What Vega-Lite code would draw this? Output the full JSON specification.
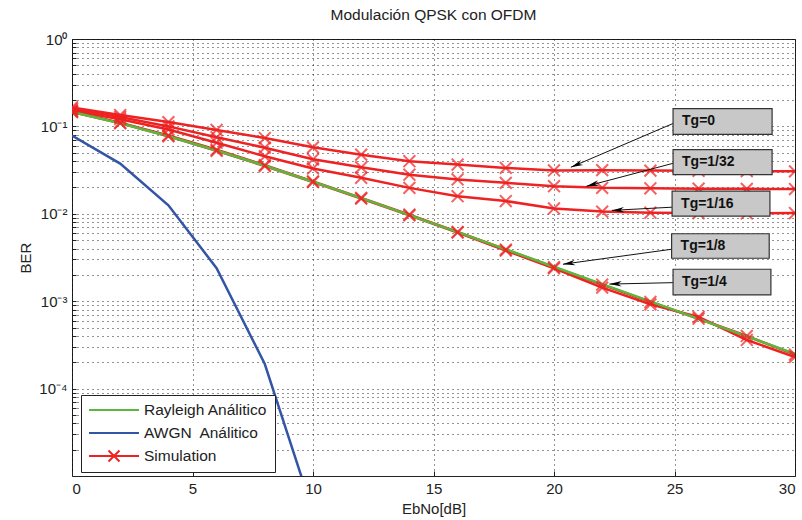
{
  "$schema": "https://vega.github.io/schema/vega-lite/v6.json",
  "width": 723,
  "height": 437,
  "autosize": {"type": "none"},
  "padding": {"left": 72, "top": 39, "right": 7, "bottom": 44},
  "background": "white",
  "title": {"text": "Modulación QPSK con OFDM", "fontSize": 15.5, "fontWeight": "normal", "font": "Liberation Sans", "color": "#222", "offset": 9},
  "config": {"view": {"stroke": "#222", "strokeWidth": 1}, "font": "Liberation Sans"},
  "datasets": {
    "curves": [
      {"s": "Simulation", "g": "Tg=0", "x": 0, "ber": 0.165}, {"s": "Simulation", "g": "Tg=0", "x": 2, "ber": 0.135}, {"s": "Simulation", "g": "Tg=0", "x": 4, "ber": 0.112}, {"s": "Simulation", "g": "Tg=0", "x": 6, "ber": 0.091}, {"s": "Simulation", "g": "Tg=0", "x": 8, "ber": 0.0736}, {"s": "Simulation", "g": "Tg=0", "x": 10, "ber": 0.0576}, {"s": "Simulation", "g": "Tg=0", "x": 12, "ber": 0.0475}, {"s": "Simulation", "g": "Tg=0", "x": 14, "ber": 0.040}, {"s": "Simulation", "g": "Tg=0", "x": 16, "ber": 0.0366}, {"s": "Simulation", "g": "Tg=0", "x": 18, "ber": 0.0335}, {"s": "Simulation", "g": "Tg=0", "x": 20, "ber": 0.0313}, {"s": "Simulation", "g": "Tg=0", "x": 22, "ber": 0.0316}, {"s": "Simulation", "g": "Tg=0", "x": 24, "ber": 0.0312}, {"s": "Simulation", "g": "Tg=0", "x": 26, "ber": 0.031}, {"s": "Simulation", "g": "Tg=0", "x": 28, "ber": 0.0308}, {"s": "Simulation", "g": "Tg=0", "x": 30, "ber": 0.0306},
      {"s": "Simulation", "g": "Tg=1/32", "x": 0, "ber": 0.158}, {"s": "Simulation", "g": "Tg=1/32", "x": 2, "ber": 0.128}, {"s": "Simulation", "g": "Tg=1/32", "x": 4, "ber": 0.100}, {"s": "Simulation", "g": "Tg=1/32", "x": 6, "ber": 0.075}, {"s": "Simulation", "g": "Tg=1/32", "x": 8, "ber": 0.057}, {"s": "Simulation", "g": "Tg=1/32", "x": 10, "ber": 0.042}, {"s": "Simulation", "g": "Tg=1/32", "x": 12, "ber": 0.034}, {"s": "Simulation", "g": "Tg=1/32", "x": 14, "ber": 0.028}, {"s": "Simulation", "g": "Tg=1/32", "x": 16, "ber": 0.0247}, {"s": "Simulation", "g": "Tg=1/32", "x": 18, "ber": 0.0226}, {"s": "Simulation", "g": "Tg=1/32", "x": 20, "ber": 0.0207}, {"s": "Simulation", "g": "Tg=1/32", "x": 22, "ber": 0.0198}, {"s": "Simulation", "g": "Tg=1/32", "x": 24, "ber": 0.0196}, {"s": "Simulation", "g": "Tg=1/32", "x": 26, "ber": 0.0194}, {"s": "Simulation", "g": "Tg=1/32", "x": 28, "ber": 0.0193}, {"s": "Simulation", "g": "Tg=1/32", "x": 30, "ber": 0.0192},
      {"s": "Simulation", "g": "Tg=1/16", "x": 0, "ber": 0.152}, {"s": "Simulation", "g": "Tg=1/16", "x": 2, "ber": 0.121}, {"s": "Simulation", "g": "Tg=1/16", "x": 4, "ber": 0.092}, {"s": "Simulation", "g": "Tg=1/16", "x": 6, "ber": 0.065}, {"s": "Simulation", "g": "Tg=1/16", "x": 8, "ber": 0.0455}, {"s": "Simulation", "g": "Tg=1/16", "x": 10, "ber": 0.033}, {"s": "Simulation", "g": "Tg=1/16", "x": 12, "ber": 0.0258}, {"s": "Simulation", "g": "Tg=1/16", "x": 14, "ber": 0.0198}, {"s": "Simulation", "g": "Tg=1/16", "x": 16, "ber": 0.0159}, {"s": "Simulation", "g": "Tg=1/16", "x": 18, "ber": 0.014}, {"s": "Simulation", "g": "Tg=1/16", "x": 20, "ber": 0.0115}, {"s": "Simulation", "g": "Tg=1/16", "x": 22, "ber": 0.0106}, {"s": "Simulation", "g": "Tg=1/16", "x": 24, "ber": 0.0103}, {"s": "Simulation", "g": "Tg=1/16", "x": 26, "ber": 0.0102}, {"s": "Simulation", "g": "Tg=1/16", "x": 28, "ber": 0.0101}, {"s": "Simulation", "g": "Tg=1/16", "x": 30, "ber": 0.0102},
      {"s": "Simulation", "g": "Tg=1/8", "x": 0, "ber": 0.148}, {"s": "Simulation", "g": "Tg=1/8", "x": 2, "ber": 0.11}, {"s": "Simulation", "g": "Tg=1/8", "x": 4, "ber": 0.079}, {"s": "Simulation", "g": "Tg=1/8", "x": 6, "ber": 0.054}, {"s": "Simulation", "g": "Tg=1/8", "x": 8, "ber": 0.036}, {"s": "Simulation", "g": "Tg=1/8", "x": 10, "ber": 0.0235}, {"s": "Simulation", "g": "Tg=1/8", "x": 12, "ber": 0.0152}, {"s": "Simulation", "g": "Tg=1/8", "x": 14, "ber": 0.0098}, {"s": "Simulation", "g": "Tg=1/8", "x": 16, "ber": 0.0062}, {"s": "Simulation", "g": "Tg=1/8", "x": 18, "ber": 0.0039}, {"s": "Simulation", "g": "Tg=1/8", "x": 20, "ber": 0.00245}, {"s": "Simulation", "g": "Tg=1/8", "x": 22, "ber": 0.00155}, {"s": "Simulation", "g": "Tg=1/8", "x": 24, "ber": 0.00098}, {"s": "Simulation", "g": "Tg=1/8", "x": 26, "ber": 0.00063}, {"s": "Simulation", "g": "Tg=1/8", "x": 28, "ber": 0.0004}, {"s": "Simulation", "g": "Tg=1/8", "x": 30, "ber": 0.000245},
      {"s": "Simulation", "g": "Tg=1/4", "x": 0, "ber": 0.146}, {"s": "Simulation", "g": "Tg=1/4", "x": 2, "ber": 0.109}, {"s": "Simulation", "g": "Tg=1/4", "x": 4, "ber": 0.077}, {"s": "Simulation", "g": "Tg=1/4", "x": 6, "ber": 0.0525}, {"s": "Simulation", "g": "Tg=1/4", "x": 8, "ber": 0.0352}, {"s": "Simulation", "g": "Tg=1/4", "x": 10, "ber": 0.0231}, {"s": "Simulation", "g": "Tg=1/4", "x": 12, "ber": 0.0149}, {"s": "Simulation", "g": "Tg=1/4", "x": 14, "ber": 0.0096}, {"s": "Simulation", "g": "Tg=1/4", "x": 16, "ber": 0.0061}, {"s": "Simulation", "g": "Tg=1/4", "x": 18, "ber": 0.0038}, {"s": "Simulation", "g": "Tg=1/4", "x": 20, "ber": 0.00238}, {"s": "Simulation", "g": "Tg=1/4", "x": 22, "ber": 0.00143}, {"s": "Simulation", "g": "Tg=1/4", "x": 24, "ber": 0.00092}, {"s": "Simulation", "g": "Tg=1/4", "x": 26, "ber": 0.00066}, {"s": "Simulation", "g": "Tg=1/4", "x": 28, "ber": 0.00036}, {"s": "Simulation", "g": "Tg=1/4", "x": 30, "ber": 0.00023},
      {"s": "Rayleigh Análitico", "g": "R", "x": 0, "ber": 0.1464}, {"s": "Rayleigh Análitico", "g": "R", "x": 2, "ber": 0.1085}, {"s": "Rayleigh Análitico", "g": "R", "x": 4, "ber": 0.0771}, {"s": "Rayleigh Análitico", "g": "R", "x": 6, "ber": 0.053}, {"s": "Rayleigh Análitico", "g": "R", "x": 8, "ber": 0.0355}, {"s": "Rayleigh Análitico", "g": "R", "x": 10, "ber": 0.0233}, {"s": "Rayleigh Análitico", "g": "R", "x": 12, "ber": 0.0151}, {"s": "Rayleigh Análitico", "g": "R", "x": 14, "ber": 0.00967}, {"s": "Rayleigh Análitico", "g": "R", "x": 16, "ber": 0.00617}, {"s": "Rayleigh Análitico", "g": "R", "x": 18, "ber": 0.00392}, {"s": "Rayleigh Análitico", "g": "R", "x": 20, "ber": 0.00248}, {"s": "Rayleigh Análitico", "g": "R", "x": 22, "ber": 0.00157}, {"s": "Rayleigh Análitico", "g": "R", "x": 24, "ber": 0.000996}, {"s": "Rayleigh Análitico", "g": "R", "x": 26, "ber": 0.000627}, {"s": "Rayleigh Análitico", "g": "R", "x": 28, "ber": 0.000396}, {"s": "Rayleigh Análitico", "g": "R", "x": 30, "ber": 0.00025},
      {"s": "AWGN\u00a0 Análitico", "g": "A", "x": 0, "ber": 0.0786}, {"s": "AWGN\u00a0 Análitico", "g": "A", "x": 2, "ber": 0.0375}, {"s": "AWGN\u00a0 Análitico", "g": "A", "x": 4, "ber": 0.0125}, {"s": "AWGN\u00a0 Análitico", "g": "A", "x": 6, "ber": 0.00239}, {"s": "AWGN\u00a0 Análitico", "g": "A", "x": 8, "ber": 0.000191}, {"s": "AWGN\u00a0 Análitico", "g": "A", "x": 10, "ber": 0.00000387}
    ],
    "boxes": [
      {"lab": "Tg=0", "x1": 24.94, "x2": 29.05, "y1": 0.16, "y2": 0.0811, "ym": 0.1139, "ax": 24.94, "ay": 0.108, "tx": 20.7, "ty": 0.0341, "a": -23},
      {"lab": "Tg=1/32", "x1": 24.94, "x2": 29.05, "y1": 0.0542, "y2": 0.0281, "ym": 0.039, "ax": 24.94, "ay": 0.0378, "tx": 21.35, "ty": 0.0207, "a": -15},
      {"lab": "Tg=1/16", "x1": 24.9, "x2": 28.96, "y1": 0.01816, "y2": 0.00942, "ym": 0.01308, "ax": 24.9, "ay": 0.0119, "tx": 22.4, "ty": 0.01094, "a": -3},
      {"lab": "Tg=1/8", "x1": 24.88, "x2": 28.93, "y1": 0.00591, "y2": 0.0031, "ym": 0.00428, "ax": 24.88, "ay": 0.00393, "tx": 20.37, "ty": 0.00265, "a": -8},
      {"lab": "Tg=1/4", "x1": 24.94, "x2": 29.0, "y1": 0.00232, "y2": 0.00118, "ym": 0.001655, "ax": 24.94, "ay": 0.00163, "tx": 22.3, "ty": 0.00157, "a": -1}
    ]
  },
  "layer": [
    {
      "data": {"name": "curves"},
      "mark": {"type": "line", "clip": true, "strokeWidth": 2.5},
      "encoding": {
        "x": {"field": "x", "type": "quantitative", "title": "EbNo[dB]", "scale": {"domain": [0, 30], "nice": false},
          "axis": {"values": [0, 5, 10, 15, 20, 25, 30], "grid": true, "gridDash": [1, 4], "gridColor": "#000", "gridOpacity": 0.85, "domain": false, "ticks": true, "tickSize": -5, "tickColor": "#222", "labelFontSize": 15, "labelColor": "#222", "labelPadding": 10, "titleFontSize": 15, "titleFontWeight": "normal", "titleColor": "#222", "titlePadding": 5, "labelFont": "Liberation Sans", "titleFont": "Liberation Sans"}},
        "y": {"field": "ber", "type": "quantitative", "title": "BER", "scale": {"type": "log", "domain": [0.00001, 1], "nice": false},
          "axis": {"values": [1, 0.9, 0.8, 0.7, 0.6, 0.5, 0.4, 0.3, 0.2, 0.1, 0.09, 0.08, 0.07, 0.06, 0.05, 0.04, 0.03, 0.02, 0.01, 0.009, 0.008, 0.007, 0.006, 0.005, 0.004, 0.003, 0.002, 0.001, 0.0009, 0.0008, 0.0007, 0.0006, 0.0005, 0.0004, 0.0003, 0.0002, 0.0001, 0.00009, 0.00008, 0.00007, 0.00006, 0.00005, 0.00004, 0.00003, 0.00002],
            "labelExpr": "['10⁰','10⁻¹','10⁻²','10⁻³','10⁻⁴'][indexof([1,0.1,0.01,0.001,0.0001], datum.value)] || ''",
            "grid": true, "gridDash": [1, 4], "gridColor": "#000", "gridOpacity": 0.85, "domain": false, "ticks": true, "tickSize": -4, "tickColor": "#222", "labelFontSize": 15, "labelColor": "#222", "labelPadding": 9, "labelOverlap": false, "titleFontSize": 15, "titleFontWeight": "normal", "titleColor": "#222", "titlePadding": 5, "labelFont": "Liberation Sans", "titleFont": "Liberation Sans"}},
        "color": {"field": "s", "type": "nominal",
          "scale": {"domain": ["Rayleigh Análitico", "AWGN\u00a0 Análitico", "Simulation"], "range": ["#5cb83c", "#3355a5", "#ee2222"]},
          "legend": {"title": null, "orient": "none", "legendX": 9, "legendY": 356, "direction": "vertical", "symbolType": "stroke", "symbolSize": 2500, "symbolStrokeWidth": 2, "clipHeight": 16, "labelFontSize": 15.5, "labelFont": "Liberation Sans", "labelColor": "#222", "strokeColor": "#222", "fillColor": "white", "padding": 7, "rowPadding": 6, "labelOffset": 4,
            "encode": {"symbols": {"update": {"shape": {"signal": "datum.value === 'Simulation' ? 'M-1,0L1,0M-0.22,-0.22L0.22,0.22M0.22,-0.22L-0.22,0.22' : 'stroke'"}}}}}},
        "detail": {"field": "g", "type": "nominal"}
      }
    },
    {
      "data": {"name": "curves"},
      "transform": [{"filter": "datum.s === 'Simulation'"}],
      "mark": {"type": "point", "shape": "M-1,-1L1,1M1,-1L-1,1", "filled": false, "size": 140, "strokeWidth": 2, "clip": true},
      "encoding": {
        "x": {"field": "x", "type": "quantitative", "title": "EbNo[dB]"},
        "y": {"field": "ber", "type": "quantitative", "title": "BER"},
        "color": {"field": "s", "type": "nominal"}
      }
    },
    {
      "data": {"name": "boxes"},
      "mark": {"type": "rule", "color": "#111", "strokeWidth": 1},
      "encoding": {
        "x": {"field": "ax", "type": "quantitative", "title": "EbNo[dB]"},
        "y": {"field": "ay", "type": "quantitative", "title": "BER"},
        "x2": {"field": "tx"},
        "y2": {"field": "ty"}
      }
    },
    {
      "data": {"name": "boxes"},
      "mark": {"type": "point", "shape": "M0,0L2,-0.45L1.4,0L2,0.45Z", "filled": true, "color": "#000", "size": 150, "opacity": 1},
      "encoding": {
        "x": {"field": "tx", "type": "quantitative", "title": "EbNo[dB]"},
        "y": {"field": "ty", "type": "quantitative", "title": "BER"},
        "angle": {"field": "a", "type": "quantitative", "scale": null}
      }
    },
    {
      "data": {"name": "boxes"},
      "mark": {"type": "rect", "fill": "#c8c8c8", "stroke": "#333", "strokeWidth": 1.2},
      "encoding": {
        "x": {"field": "x1", "type": "quantitative", "title": "EbNo[dB]"},
        "x2": {"field": "x2"},
        "y": {"field": "y1", "type": "quantitative", "title": "BER"},
        "y2": {"field": "y2"}
      }
    },
    {
      "data": {"name": "boxes"},
      "mark": {"type": "text", "align": "left", "baseline": "middle", "dx": 9, "fontSize": 14, "fontWeight": "bold", "font": "Liberation Sans", "color": "#111"},
      "encoding": {
        "x": {"field": "x1", "type": "quantitative", "title": "EbNo[dB]"},
        "y": {"field": "ym", "type": "quantitative", "title": "BER"},
        "text": {"field": "lab"}
      }
    }
  ]
}
